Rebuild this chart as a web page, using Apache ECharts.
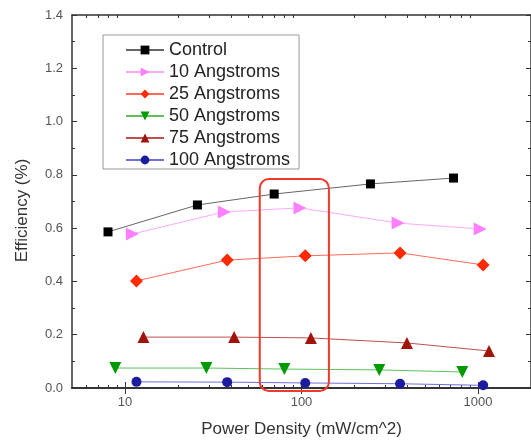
<!DOCTYPE html>
<html>
<head>
<meta charset="utf-8">
<script src="https://cdn.jsdelivr.net/npm/echarts@6/dist/echarts.min.js"></script>
<style>
  html, body { margin: 0; padding: 0; background: #fff; }
  #chart { width: 531px; height: 443px; }
</style>
</head>
<body>
<div id="chart"></div>
<script>
// Efficiency vs. incident power density for different interlayer thicknesses
const seriesNames = ['Control', '10 Angstroms', '25 Angstroms', '50 Angstroms', '75 Angstroms', '100 Angstroms'];

const controlX = [8, 25.7, 70, 246, 727];
const controlY = [0.586, 0.687, 0.728, 0.766, 0.788];

const a10X = [11.0, 36.5, 98, 353, 1030];
const a10Y = [0.578, 0.661, 0.676, 0.619, 0.597];

const a25X = [11.6, 37.9, 105, 362, 1071];
const a25Y = [0.402, 0.480, 0.496, 0.507, 0.462];

const a50X = [8.8, 28.9, 80, 276, 816];
const a50Y = [0.075, 0.075, 0.071, 0.068, 0.060];

const a75X = [12.7, 41.5, 113, 396, 1156];
const a75Y = [0.191, 0.191, 0.188, 0.169, 0.139];

const a100X = [11.6, 37.9, 105, 362, 1071];
const a100Y = [0.023, 0.022, 0.019, 0.016, 0.010];

// x tick values
const majorTicks = [10, 100, 1000];
const minorTicks = [6, 7, 8, 9, 20, 30, 40, 50, 60, 70, 80, 90, 200, 300, 400, 500, 600, 700, 800, 900];

// highlighted region around ~100 mW/cm^2 (x range, y range)
const highlightX = [58, 143];
const highlightY = [-0.011, 0.784];

const FONT = '"Liberation Sans", Arial, sans-serif';

function pairs(xs, ys) { return xs.map((x, i) => [x, ys[i]]); }

const styles = [
  { color: '#000000', line: '#666666', symbol: 'rect', size: 9, rotate: 0 },
  { color: '#ff80ff', line: '#ffa8ff', symbol: 'triangle', size: 13, rotate: -90 },
  { color: '#ff2a00', line: '#ff6a5a', symbol: 'diamond', size: 13, rotate: 0 },
  { color: '#009a00', line: '#60c060', symbol: 'triangle', size: 12, rotate: 180 },
  { color: '#a0140c', line: '#c05050', symbol: 'triangle', size: 12, rotate: 0 },
  { color: '#1c1ca0', line: '#7070d8', symbol: 'circle', size: 10, rotate: 0 }
];
const dataSets = [
  pairs(controlX, controlY), pairs(a10X, a10Y), pairs(a25X, a25Y),
  pairs(a50X, a50Y), pairs(a75X, a75Y), pairs(a100X, a100Y)
];

const axisLineStyle = { color: '#333', width: 1.5 };

function logAxis(pos, labels, tickValues, tickLen) {
  return {
    type: 'log', logBase: 10, min: 5, max: 2000, position: pos,
    axisLine: { show: true, lineStyle: axisLineStyle },
    axisTick: { show: true, inside: true, length: tickLen, customValues: tickValues,
                lineStyle: { color: '#333', width: 1 } },
    axisLabel: labels ? {
      show: true, customValues: majorTicks, color: '#555', fontSize: 13, fontFamily: FONT, margin: 8,
      formatter: v => String(Math.round(v))
    } : { show: false },
    splitLine: { show: false }
  };
}

const chart = echarts.init(document.getElementById('chart'), null, { renderer: 'canvas' });

const xMain = logAxis('bottom', true, majorTicks, 6);
xMain.name = 'Power Density (mW/cm^2)';
xMain.nameLocation = 'middle';
xMain.nameGap = 33;
xMain.nameTextStyle = { fontSize: 17, color: '#333', fontFamily: FONT };

const option = {
  animation: false,
  backgroundColor: '#fff',
  textStyle: { fontFamily: FONT },
  grid: { left: 72, top: 15, width: 464.5, height: 373, containLabel: false },
  xAxis: [
    xMain,
    logAxis('top', false, majorTicks, 6),
    logAxis('bottom', false, minorTicks, 3),
    logAxis('top', false, minorTicks, 3)
  ],
  yAxis: [
    {
      type: 'value', min: 0, max: 1.4, interval: 0.2, position: 'left',
      name: 'Efficiency (%)', nameLocation: 'middle', nameGap: 41,
      nameTextStyle: { fontSize: 17, color: '#333', fontFamily: FONT, padding: [0, 0, 0, -18] },
      axisLine: { show: true, lineStyle: axisLineStyle },
      axisTick: { show: true, inside: true, length: 5, lineStyle: { color: '#333' } },
      minorTick: { show: true, splitNumber: 2, length: 3, lineStyle: { color: '#333' } },
      axisLabel: { color: '#555', fontSize: 13, fontFamily: FONT, margin: 9, formatter: v => v.toFixed(1) },
      splitLine: { show: false }
    },
    {
      type: 'value', min: 0, max: 1.4, interval: 0.2, position: 'right',
      axisLine: { show: true, lineStyle: axisLineStyle },
      axisTick: { show: true, inside: true, length: 5, lineStyle: { color: '#333' } },
      minorTick: { show: true, splitNumber: 2, length: 3, lineStyle: { color: '#333' } },
      axisLabel: { show: false },
      splitLine: { show: false }
    }
  ],
  legend: {
    orient: 'vertical', left: 103, top: 35,
    padding: [6, 9, 0, 22],
    itemWidth: 38, itemHeight: 11, itemGap: 4,
    backgroundColor: '#fff', borderColor: '#999', borderWidth: 1, borderRadius: 0,
    textStyle: { fontSize: 18, lineHeight: 18, color: '#222', fontFamily: FONT },
    data: seriesNames
  },
  series: seriesNames.map((name, i) => ({
    name: name, type: 'line', xAxisIndex: 0, yAxisIndex: 0,
    data: dataSets[i],
    symbol: styles[i].symbol, symbolSize: styles[i].size, symbolRotate: styles[i].rotate,
    itemStyle: { color: styles[i].color },
    lineStyle: { color: styles[i].line, width: 1 },
    z: 3
  }))
};

chart.setOption(option);

// rounded highlight frame placed through the axes' own scales
function drawHighlight() {
  const p0 = chart.convertToPixel({ xAxisIndex: 0, yAxisIndex: 0 }, [highlightX[0], highlightY[1]]);
  const p1 = chart.convertToPixel({ xAxisIndex: 0, yAxisIndex: 0 }, [highlightX[1], highlightY[0]]);
  chart.setOption({
    graphic: [{
      type: 'rect', z: 10,
      shape: { x: p0[0], y: p0[1], width: p1[0] - p0[0], height: p1[1] - p0[1], r: 9 },
      style: { fill: 'none', stroke: '#f03a2a', lineWidth: 2 }
    }]
  });
}
drawHighlight();
</script>
</body>
</html>
